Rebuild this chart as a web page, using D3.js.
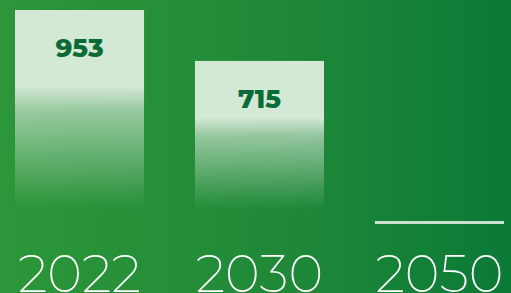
<!DOCTYPE html>
<html>
<head>
<meta charset="utf-8">
<script src="https://cdn.jsdelivr.net/npm/d3@7"></script>
<style>
  html, body { margin: 0; padding: 0; overflow: hidden; background: #1f8a3a; }
</style>
</head>
<body>
<div id="chart"></div>
<script>
// chart data
var years = ["2022", "2030", "2050"];
var values = [953, 715, 0];

var width = 511, height = 293;

var svg = d3.select("#chart").append("svg")
    .attr("width", width)
    .attr("height", height);

var defs = svg.append("defs");

var bg = defs.append("linearGradient")
    .attr("id", "bg")
    .attr("x1", "0%").attr("x2", "100%")
    .attr("y1", "0%").attr("y2", "0%");
bg.append("stop").attr("offset", "0%").attr("stop-color", "#2c9639");
bg.append("stop").attr("offset", "55%").attr("stop-color", "#208938");
bg.append("stop").attr("offset", "100%").attr("stop-color", "#0b7a37");

var barGrad = defs.append("linearGradient")
    .attr("id", "barfill")
    .attr("x1", "0%").attr("x2", "0%")
    .attr("y1", "0%").attr("y2", "100%");
barGrad.append("stop").attr("offset", "0%").attr("stop-color", "#d4e8d6").attr("stop-opacity", 1);
barGrad.append("stop").attr("offset", "38%").attr("stop-color", "#d4e8d6").attr("stop-opacity", 1);
barGrad.append("stop").attr("offset", "50%").attr("stop-color", "#d4e8d6").attr("stop-opacity", 0.65);
barGrad.append("stop").attr("offset", "93%").attr("stop-color", "#d4e8d6").attr("stop-opacity", 0.08);
barGrad.append("stop").attr("offset", "100%").attr("stop-color", "#d4e8d6").attr("stop-opacity", 0);

svg.append("rect")
    .attr("width", width)
    .attr("height", height)
    .attr("fill", "url(#bg)");

var x = d3.scaleBand()
    .domain(years)
    .range([15, 504])
    .paddingInner(0.283)
    .paddingOuter(0);

var y = d3.scaleLinear()
    .domain([0, 953])
    .range([214, 10]);

var data = years.map(function (d, i) { return { year: d, value: values[i] }; });

// bars (fade out towards the base)
svg.selectAll(".bar")
    .data(data.filter(function (d) { return d.value > 0; }))
    .enter().append("rect")
    .attr("class", "bar")
    .attr("x", function (d) { return x(d.year); })
    .attr("y", function (d) { return y(d.value); })
    .attr("width", x.bandwidth())
    .attr("height", function (d) { return y(0) - y(d.value) - 4; })
    .attr("fill", "url(#barfill)");

// zero value shown as a thin line a little below the fade
svg.selectAll(".zero")
    .data(data.filter(function (d) { return d.value === 0; }))
    .enter().append("rect")
    .attr("class", "zero")
    .attr("x", function (d) { return x(d.year); })
    .attr("y", y(0) + 7)
    .attr("width", x.bandwidth())
    .attr("height", 3)
    .attr("fill", "#c9e2cd");

// value labels
svg.selectAll(".val")
    .data(data.filter(function (d) { return d.value > 0; }))
    .enter().append("text")
    .attr("class", "val")
    .attr("x", function (d) { return x(d.year) + x.bandwidth() / 2; })
    .attr("y", function (d) { return y(d.value) + 47; })
    .attr("text-anchor", "middle")
    .attr("font-family", "Montserrat, 'Open Sans', sans-serif")
    .attr("font-weight", 800)
    .attr("font-size", 26)
    .attr("fill", "#0b6b36")
    .text(function (d) { return d.value; });

// year labels
svg.selectAll(".year")
    .data(data)
    .enter().append("text")
    .attr("class", "year")
    .attr("x", function (d) { return x(d.year) + x.bandwidth() / 2; })
    .attr("y", 292)
    .attr("text-anchor", "middle")
    .attr("font-family", "Montserrat, Lato, sans-serif")
    .attr("font-weight", 200)
    .attr("font-size", 53)
    .attr("fill", "#ffffff")
    .text(function (d) { return d.year; });
</script>
</body>
</html>
